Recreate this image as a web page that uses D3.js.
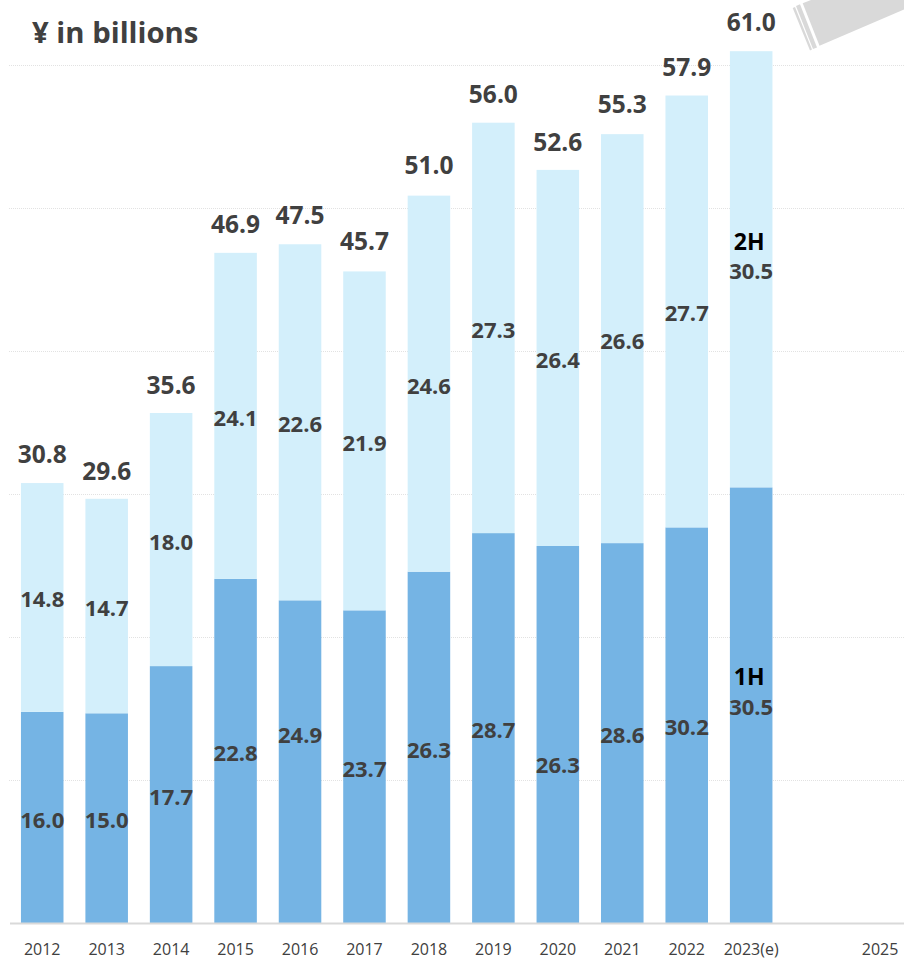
<!DOCTYPE html>
<html>
<head>
<meta charset="utf-8">
<script src="https://cdn.jsdelivr.net/npm/d3@7"></script>
<style>
  html, body { margin: 0; padding: 0; background: #fff; overflow: hidden; }
  svg { display: block; }
  text { font-family: "Open Sans", sans-serif; fill: #404040; }
</style>
</head>
<body>
<svg id="chart" width="904" height="959"></svg>
<script>
// Fiscal years; 2024 is an unlabelled empty slot before 2025.
const years = ["2012","2013","2014","2015","2016","2017","2018","2019","2020","2021","2022","2023(e)","","2025"];
const totals = [30.8,29.6,35.6,46.9,47.5,45.7,51.0,56.0,52.6,55.3,57.9,61.0];
// The lower (dark) segment is sized by one half, and printed with the other half's figure.
const lowerHeights = [14.8,14.7,18.0,24.1,22.6,21.9,24.6,27.3,26.4,26.6,27.7,30.5];
const upperHeights = [16.0,15.0,17.7,22.8,24.9,23.7,26.3,28.7,26.3,28.6,30.2,30.5];
const gridTicks = [0,10,20,30,40,50,60];

const DARK = "#75b4e4", LIGHT = "#d3effb", GRID = "#d9d9d9";
const svg = d3.select("#chart");

const x = d3.scaleBand().domain(years).range([10, 10 + 14 * 64.45]).paddingInner(0.34).paddingOuter(0.17);
const y = d3.scaleLinear().domain([0, 60]).range([923.5, 65.5]);

// Dotted horizontal guides
svg.append("g").selectAll("line").data(gridTicks.slice(1)).join("line")
  .attr("x1", 9).attr("x2", 904)
  .attr("y1", d => Math.floor(y(d)) + 0.5).attr("y2", d => Math.floor(y(d)) + 0.5)
  .attr("stroke", "#e2e2e2").attr("stroke-width", 1).attr("stroke-dasharray", "1 1");

// Stacked bars
const rows = totals.map((t, i) => ({ year: years[i], lower: lowerHeights[i], upper: upperHeights[i], total: t }));
const stacked = d3.stack().keys(["lower", "upper"])(rows);
svg.append("g").selectAll("g").data(stacked).join("g")
  .attr("fill", s => s.key === "lower" ? DARK : LIGHT)
  .selectAll("rect").data(s => s).join("rect")
  .attr("x", d => x(d.data.year))
  .attr("width", x.bandwidth())
  .attr("y", d => y(d[1]))
  .attr("height", d => y(d[0]) - y(d[1]));

// Category axis
const axis = svg.append("g").attr("transform", "translate(0,923.5)")
  .call(d3.axisBottom(x).tickSize(0).tickPadding(20));
axis.select(".domain").attr("stroke", GRID).attr("stroke-width", 2).attr("d", "M10,0H904");
axis.selectAll("text").attr("font-size", 16).style("font-family", '"Open Sans", sans-serif').attr("fill", "#404040");

// Hand-placed figures inside two of the dark segments
const lowerLabelShift = { "2016": -28.5, "2020": 28 };

const centre = d => (y(d[0]) + y(d[1])) / 2 + 1;
const labels = svg.append("g").attr("font-weight", 700).attr("font-size", 22)
  .attr("text-anchor", "middle").attr("dominant-baseline", "central");
labels.selectAll(".lower").data(stacked[0]).join("text").attr("class", "lower")
  .attr("x", d => x(d.data.year) + x.bandwidth() / 2)
  .attr("y", d => centre(d) + (lowerLabelShift[d.data.year] || 0))
  .text(d => d.data.upper.toFixed(1));
labels.selectAll(".upper").data(stacked[1]).join("text").attr("class", "upper")
  .attr("x", d => x(d.data.year) + x.bandwidth() / 2)
  .attr("y", centre)
  .text(d => d.data.lower.toFixed(1));

// Totals above each bar
svg.append("g").attr("font-weight", 700).attr("font-size", 24.5)
  .attr("text-anchor", "middle").attr("dominant-baseline", "central")
  .selectAll("text").data(rows).join("text")
  .attr("x", d => x(d.year) + x.bandwidth() / 2)
  .attr("y", d => y(d.total) - 29.5)
  .text(d => d.total.toFixed(1));

// Half-year captions on the last bar
const lastX = x("2023(e)") + x.bandwidth() / 2;
const captions = svg.append("g").attr("font-weight", 700).attr("font-size", 23)
  .attr("text-anchor", "middle").attr("dominant-baseline", "central");
captions.append("text").attr("x", lastX - 2).attr("y", 676).style("fill", "#000").text("1H");
captions.append("text").attr("x", lastX - 2).attr("y", 241).style("fill", "#000").text("2H");

// Unit title
svg.append("text").attr("x", 32).attr("y", 32).attr("dominant-baseline", "central")
  .attr("font-weight", 700).attr("font-size", 29.3).text("¥ in billions");

// Grey break-marked ribbon in the top right corner
const ribbon = [
  [[802.7, 3.3], [811, 0], [904, 0], [904, 9.5], [819.5, 45.7]],
  [[796, 6], [800, 4.3], [817, 47.5], [813, 49]],
  [[792.7, 8], [795, 7], [812, 49.5], [810, 50.5]]
];
svg.append("g").selectAll("polygon").data(ribbon).join("polygon")
  .attr("points", d => d.join(" ")).attr("fill", GRID);
</script>
</body>
</html>
